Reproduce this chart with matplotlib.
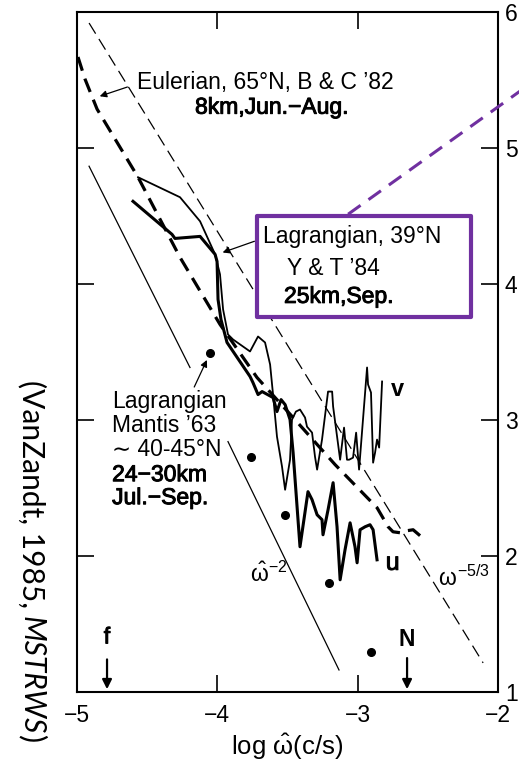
import matplotlib
matplotlib.use("Agg")
import matplotlib.pyplot as plt
import matplotlib.patheffects as pe
from matplotlib.patches import Rectangle

plt.rcParams['font.family'] = ['Liberation Sans', 'DejaVu Sans']
plt.rcParams['mathtext.fontset'] = 'custom'
plt.rcParams['mathtext.rm'] = 'Liberation Sans'
plt.rcParams['mathtext.it'] = 'Liberation Sans'

PURPLE = '#7030a0'

# log frequency / log spectral density
# Lagrangian balloon spectra, Y & T '84 (u thick, v thin)
v_x = [-4.565, -4.266, -4.123, -4.016, -3.981, -3.959, -3.924, -3.888, -3.767, -3.710,
       -3.660, -3.624, -3.603, -3.575, -3.539, -3.517, -3.482, -3.468, -3.440, -3.411,
       -3.375, -3.361, -3.325, -3.304, -3.289, -3.254, -3.211, -3.182, -3.175, -3.125,
       -3.097, -3.076, -3.061, -3.033, -3.011, -2.990, -2.933, -2.926, -2.905, -2.890,
       -2.876, -2.862, -2.847, -2.826]
v_y = [4.785, 4.638, 4.461, 4.218, 4.071, 3.813, 3.629, 3.592, 3.504, 3.614,
       3.570, 3.408, 3.187, 2.878, 2.657, 2.487, 2.708, 3.003, 3.062, 3.077,
       3.018, 2.951, 2.907, 2.730, 2.635, 2.856, 3.209, 3.209, 3.099, 2.708,
       2.944, 2.708, 2.708, 2.723, 2.907, 2.635, 3.386, 3.261, 3.202, 2.686,
       2.760, 2.856, 2.797, 3.283]

u_x = [-4.601, -4.323, -4.302, -4.123, -4.016, -4.002, -3.995, -3.974, -3.931, -3.767,
       -3.746, -3.710, -3.681, -3.603, -3.575, -3.546, -3.517, -3.482, -3.460, -3.411,
       -3.354, -3.325, -3.289, -3.254, -3.247, -3.211, -3.175, -3.147, -3.125, -3.090,
       -3.054, -3.019, -3.004, -2.983, -2.947, -2.912, -2.890, -2.862]
u_y = [4.608, 4.365, 4.335, 4.350, 4.218, 4.166, 3.887, 3.739, 3.570, 3.320,
       3.275, 3.187, 3.209, 3.165, 3.062, 3.150, 3.113, 3.003, 2.760, 2.068,
       2.473, 2.414, 2.303, 2.267, 2.156, 2.340, 2.539, 2.215, 1.825, 2.046,
       2.244, 2.068, 1.950, 2.193, 2.215, 2.230, 2.193, 1.972]

# Eulerian spectrum, B & C '82
eul_x = [-4.993, -4.943, -4.857, -4.565, -4.266, -3.981, -3.717, -3.460, -3.161, -2.862,
         -2.783, -2.748, -2.698, -2.648, -2.605, -2.555]
eul_y = [5.669, 5.507, 5.286, 4.785, 4.196, 3.703, 3.312, 3.018, 2.672, 2.355,
         2.215, 2.178, 2.171, 2.186, 2.193, 2.149]

# Mantis '63 points
mantis_x = [-4.052, -3.760, -3.517, -3.207, -2.907]
mantis_y = [3.496, 2.730, 2.303, 1.803, 1.295]

# reference slopes
slope53_x = [-4.914, -2.106]
slope53_y = [5.919, 1.214]
slope2_x = [[-4.914, -4.195], [-3.924, -3.133]]
slope2_y = [[4.866, 3.386], [2.841, 1.162]]

f_x = -4.786
N_x = -2.648

xticks = [-5, -4, -3, -2]
yticks = [1, 2, 3, 4, 5, 6]

fig = plt.figure(figsize=(5.19, 7.62), dpi=100)
ax = fig.add_axes([77 / 519, 70 / 762, 421 / 519, 680 / 762])
ax.set_xlim(-5, -2)
ax.set_ylim(1, 6)
ax.set_xticks(xticks)
ax.set_yticks(yticks)
ax.set_xticklabels(['\u2212%d' % abs(t) for t in xticks])
ax.tick_params(direction='in', length=12, width=1.2, top=True, right=True,
               labelleft=False, labelright=True, labelsize=16.5)
ax.tick_params(axis='x', pad=9)
ax.tick_params(axis='y', pad=5)
for s in ax.spines.values():
    s.set_linewidth(1.5)
ax.set_xlabel(r'log $\hat{\omega}$(c/s)', fontsize=18.5, labelpad=3)

ax.plot(slope53_x, slope53_y, color='black', lw=0.9, linestyle=(0, (10, 5)))
for xs, ys in zip(slope2_x, slope2_y):
    ax.plot(xs, ys, color='black', lw=0.9)
ax.plot(eul_x, eul_y, color='black', lw=2.3, linestyle=(0, (4.5, 2.6)))
ax.plot(v_x, v_y, color='black', lw=1.3)
ax.plot(u_x, u_y, color='black', lw=2.2)
ax.plot(mantis_x, mantis_y, 'o', color='black', ms=5.5)

arrow = dict(arrowstyle='-|>', color='black', lw=0.9, mutation_scale=10)
txt = dict(fontsize=16.5, color='black')
# slightly heavier than regular, lighter than bold
semi = dict(path_effects=[pe.withStroke(linewidth=0.7, foreground='black')])

ax.text(-4.572, 5.485, "Eulerian, 65\u00b0N, B & C \u201982", va='center', **txt)
ax.text(-4.159, 5.300, "8km,Jun.\u2212Aug.", va='center', **txt, **semi)
ax.annotate('', xy=(-4.857, 5.374), xytext=(-4.622, 5.455), arrowprops=arrow)

box = Rectangle((-3.717, 3.754), 1.525, 0.744, facecolor='white', edgecolor=PURPLE,
                lw=3, zorder=5, joinstyle='round')
ax.add_patch(box)
ax.text(-3.674, 4.350, "Lagrangian, 39\u00b0N", va='center', zorder=6, **txt)
ax.text(-3.503, 4.115, "Y & T \u201984", va='center', zorder=6, **txt)
ax.text(-3.525, 3.909, "25km,Sep.", va='center', zorder=6, **txt, **semi)
ax.annotate('', xy=(-3.981, 4.225), xytext=(-3.717, 4.321), arrowprops=arrow)
ax.plot([-3.068, -1.80], [4.513, 5.45], color=PURPLE, lw=2.2,
        linestyle=(0, (5, 3.2)), clip_on=False, zorder=6)

mantis_lines = ["Lagrangian", "Mantis \u201963", "\u223c 40-45\u00b0N", "24\u221230km", "Jul.\u2212Sep."]
mantis_ty = [3.135, 2.959, 2.782, 2.598, 2.429]
for s, ty in zip(mantis_lines, mantis_ty):
    extra = semi if ty < 2.7 else {}
    ax.text(-4.750, ty, s, va='center', **txt, **extra)
ax.annotate('', xy=(-4.066, 3.460), xytext=(-4.173, 3.224), arrowprops=arrow)

ax.text(-2.760, 3.224, "v", va='center', ha='left', fontweight='bold', fontsize=17)
ax.text(-2.800, 1.950, "u", va='center', ha='left', fontsize=18, **semi)
ax.text(-3.767, 1.862, r"$\hat{\omega}^{-2}$", va='center', fontsize=16.5)
ax.text(-2.427, 1.839, r"$\omega^{-5/3}$", va='center', fontsize=16.5)

big_arrow = dict(arrowstyle='-|>', color='black', lw=1.6, mutation_scale=14)
ax.annotate('', xy=(f_x, 1.0), xytext=(f_x, 1.26), arrowprops=big_arrow)
ax.text(f_x, 1.405, "f", ha='center', va='center', fontsize=16.5, **semi)
ax.annotate('', xy=(N_x, 1.0), xytext=(N_x, 1.27), arrowprops=big_arrow)
ax.text(N_x, 1.383, "N", ha='center', va='center', fontsize=16.5, fontweight='bold')

# side caption, read top to bottom, journal name in italics
cap_kw = dict(rotation=-90, rotation_mode='anchor', ha='left', va='baseline',
              fontsize=21.5, family=['Lato', 'DejaVu Sans'])
fig.canvas.draw()
r = fig.canvas.get_renderer()
x0 = 23 / 519
y_cur = 380
for part, style in [("(VanZandt, 1985,", 'normal'), ("MSTRWS", 'italic'), (")", 'normal')]:
    t = fig.text(x0, 1 - y_cur / 762, part, style=style, **cap_kw)
    bb = t.get_window_extent(r)
    y_cur += bb.height + (8 if part.endswith(',') else 1)

fig.savefig('out.png', dpi=100)
